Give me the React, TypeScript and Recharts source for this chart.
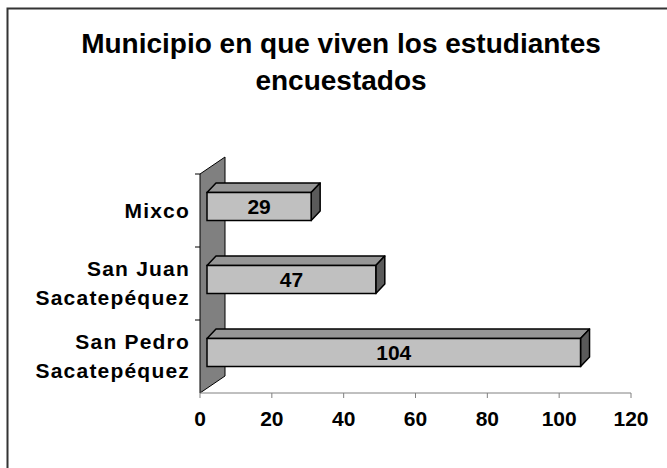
import { Bar, BarChart, Customized, XAxis, YAxis } from "recharts";

const municipios = ["Mixco", "San Juan Sacatepéquez", "San Pedro Sacatepéquez"];
const estudiantes = [29, 47, 104];
const xTicks = [0, 20, 40, 60, 80, 100, 120];
const titulo = ["Municipio en que viven los estudiantes", "encuestados"];

const data = municipios.map((m, i) => ({ municipio: m, valor: estudiantes[i] }));

const W = 667;
const H = 468;
const PLOT = { left: 200, top: 174, right: 631, bottom: 393 };
const FONT = "'Liberation Sans', Arial, Helvetica, sans-serif";
// bars sit a little behind the front plane of the wall
const SHIFT = { x: 7, y: 4.5 };
const DEPTH = { x: 9, y: 9.5 };
const WALL = { x: 25, y: 17 };

const Bar3D = (props: any) => {
  const { x, y, width, height, payload } = props;
  const fx = x + SHIFT.x;
  const fy = y - SHIFT.y;
  const rx = fx + width;
  return (
    <g>
      <polygon
        points={`${fx},${fy} ${fx + DEPTH.x},${fy - DEPTH.y} ${rx + DEPTH.x},${fy - DEPTH.y} ${rx},${fy}`}
        fill="#969696"
        stroke="#000"
        strokeWidth={1.5}
        strokeLinejoin="round"
      />
      <polygon
        points={`${rx},${fy} ${rx + DEPTH.x},${fy - DEPTH.y} ${rx + DEPTH.x},${fy + height - DEPTH.y} ${rx},${fy + height}`}
        fill="#5a5a5a"
        stroke="#000"
        strokeWidth={1.5}
        strokeLinejoin="round"
      />
      <rect x={fx} y={fy} width={width} height={height} fill="#c0c0c0" stroke="#000" strokeWidth={1.5} />
      <text
        x={fx + width / 2}
        y={fy + height / 2 + 7.5}
        textAnchor="middle"
        fontFamily={FONT}
        fontWeight="bold"
        fontSize={21}
        fill="#000"
      >
        {payload.valor}
      </text>
    </g>
  );
};

const Frame = () => {
  const { left, top, bottom } = PLOT;
  const band = (bottom - top) / municipios.length;
  return (
    <g>
      <rect x={7.5} y={8.5} width={700} height={500} fill="#fff" stroke="#333" strokeWidth={2} />
      <text textAnchor="middle" fontFamily={FONT} fontWeight="bold" fontSize={28} fill="#000">
        <tspan x={341} y={53}>{titulo[0]}</tspan>
        <tspan x={341} y={90}>{titulo[1]}</tspan>
      </text>
      <polygon
        points={`${left},${top} ${left + WALL.x},${top - WALL.y} ${left + WALL.x},${bottom - WALL.y} ${left},${bottom}`}
        fill="#808080"
        stroke="#000"
        strokeWidth={1}
      />
      {municipios.map((_, i) => (
        <line key={i} x1={left - 5} x2={left} y1={top + i * band} y2={top + i * band} stroke="#000" />
      ))}
    </g>
  );
};

const CategoryTick = (props: any) => {
  const { x, y, payload } = props;
  const words: string[] = payload.value.split(" ");
  const lines = words.length > 2 ? [words.slice(0, 2).join(" "), words.slice(2).join(" ")] : [payload.value];
  const start = y + 7 - ((lines.length - 1) * 28.5) / 2;
  return (
    <text textAnchor="end" fontFamily={FONT} fontWeight="bold" fontSize={21} letterSpacing={1.2} fill="#000">
      {lines.map((l, i) => (
        <tspan key={i} x={x} y={start + i * 28.5}>
          {l}
        </tspan>
      ))}
    </text>
  );
};

const ValueTick = (props: any) => {
  const { x, payload } = props;
  return (
    <text x={x} y={426} textAnchor="middle" fontFamily={FONT} fontWeight="bold" fontSize={21} fill="#000">
      {payload.value}
    </text>
  );
};

export default function App() {
  return (
    <div style={{ position: "absolute", left: 0, top: 0, width: W, height: H, background: "#fff" }}>
      <BarChart
        width={W}
        height={H}
        data={data}
        layout="vertical"
        barSize={28}
        margin={{ top: PLOT.top, right: W - PLOT.right, bottom: H - PLOT.bottom - 40, left: 0 }}
      >
        <Customized component={Frame} />
        <XAxis
          type="number"
          domain={[0, 120]}
          ticks={xTicks}
          height={40}
          stroke="#808080"
          tickSize={5}
          tick={<ValueTick />}
          interval={0}
        />
        <YAxis
          type="category"
          dataKey="municipio"
          width={PLOT.left}
          axisLine={false}
          tickLine={false}
          tickSize={0}
          tickMargin={10}
          tick={<CategoryTick />}
          interval={0}
        />
        <Bar dataKey="valor" shape={<Bar3D />} isAnimationActive={false} />
      </BarChart>
    </div>
  );
}
